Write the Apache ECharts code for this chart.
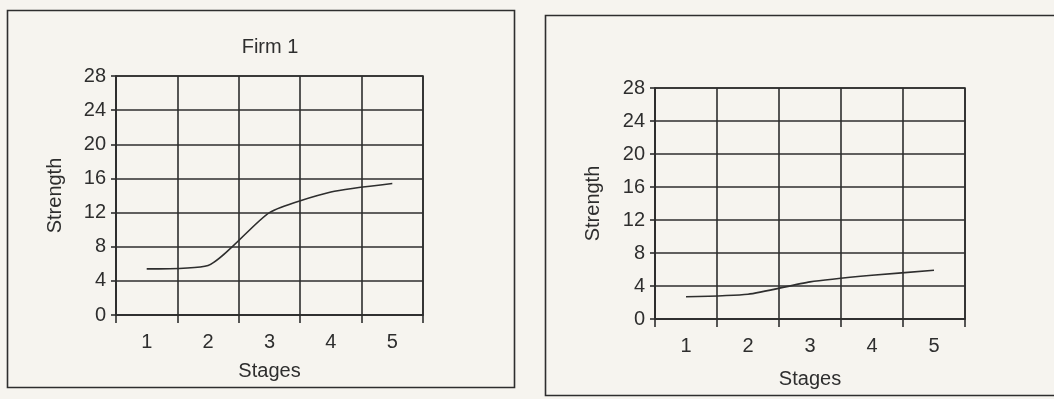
<!DOCTYPE html>
<html>
<head>
<meta charset="utf-8">
<script src="https://cdn.jsdelivr.net/npm/echarts@6/dist/echarts.min.js"></script>
<style>
  html, body { margin: 0; padding: 0; background: #f6f4ef; }
  #chart { width: 1054px; height: 399px; }
</style>
</head>
<body>
<div id="chart"></div>
<script>
// Stage categories and strength values for each firm
const stages = ['1', '2', '3', '4', '5'];
const firm1Strength = [5.4, 5.8, 12, 14.4, 15.4];
const firm2Strength = [2.7, 3.0, 4.5, 5.3, 5.9];
const strengthTicks = { min: 0, max: 28, interval: 4 };
const firm1Title = 'Firm 1';
const xName = 'Stages';
const yName = 'Strength';

const ink = '#2e2e2e';
const font = 'Liberation Sans, Arial, sans-serif';
const fs = 20;

function xAxis(gridIndex, labelMargin, nameGap) {
  return {
    type: 'category', gridIndex, data: stages, boundaryGap: true,
    name: xName, nameLocation: 'middle', nameGap,
    nameTextStyle: { color: ink, fontSize: fs, fontFamily: font },
    axisLine: { show: true, lineStyle: { color: ink, width: 1.6 } },
    axisTick: { show: true, length: 8, lineStyle: { color: ink, width: 1.6 } },
    axisLabel: { color: ink, fontSize: fs, fontFamily: font, margin: labelMargin },
    splitLine: { show: true, lineStyle: { color: ink, width: 1.6 } }
  };
}

function yAxis(gridIndex, nameGap) {
  return {
    type: 'value', gridIndex,
    min: strengthTicks.min, max: strengthTicks.max, interval: strengthTicks.interval,
    name: yName, nameLocation: 'middle', nameGap, nameRotate: 90,
    nameTextStyle: { color: ink, fontSize: fs, fontFamily: font },
    axisLine: { show: true, lineStyle: { color: ink, width: 1.6 } },
    axisTick: { show: true, length: 5, lineStyle: { color: ink, width: 1.6 } },
    axisLabel: { color: ink, fontSize: fs, fontFamily: font, margin: 10 },
    splitLine: { show: true, lineStyle: { color: ink, width: 1.6 } }
  };
}

function lineSeries(idx, values) {
  return {
    type: 'line', xAxisIndex: idx, yAxisIndex: idx, data: values,
    smooth: 0.2, symbol: 'none',
    lineStyle: { color: ink, width: 1.6 }
  };
}

const chart = echarts.init(document.getElementById('chart'));
chart.setOption({
  backgroundColor: '#f6f4ef',
  animation: false,
  title: {
    text: firm1Title, left: 265, top: 32, textAlign: 'center',
    textStyle: { color: ink, fontSize: fs, fontWeight: 'normal', fontFamily: font }
  },
  grid: [
    { left: 116, top: 76, width: 307, height: 239, show: true, borderColor: ink, borderWidth: 1.6 },
    { left: 655, top: 88, width: 310, height: 231, show: true, borderColor: ink, borderWidth: 1.6 }
  ],
  xAxis: [xAxis(0, 17, 46), xAxis(1, 17, 50)],
  yAxis: [yAxis(0, 51), yAxis(1, 52)],
  series: [lineSeries(0, firm1Strength), lineSeries(1, firm2Strength)],
  graphic: [
    { type: 'rect', shape: { x: 7.5, y: 10.5, width: 507, height: 377 },
      style: { fill: 'none', stroke: ink, lineWidth: 1.6 } },
    { type: 'rect', shape: { x: 545.5, y: 15.5, width: 520, height: 380 },
      style: { fill: 'none', stroke: ink, lineWidth: 1.6 } }
  ]
});
</script>
</body>
</html>
